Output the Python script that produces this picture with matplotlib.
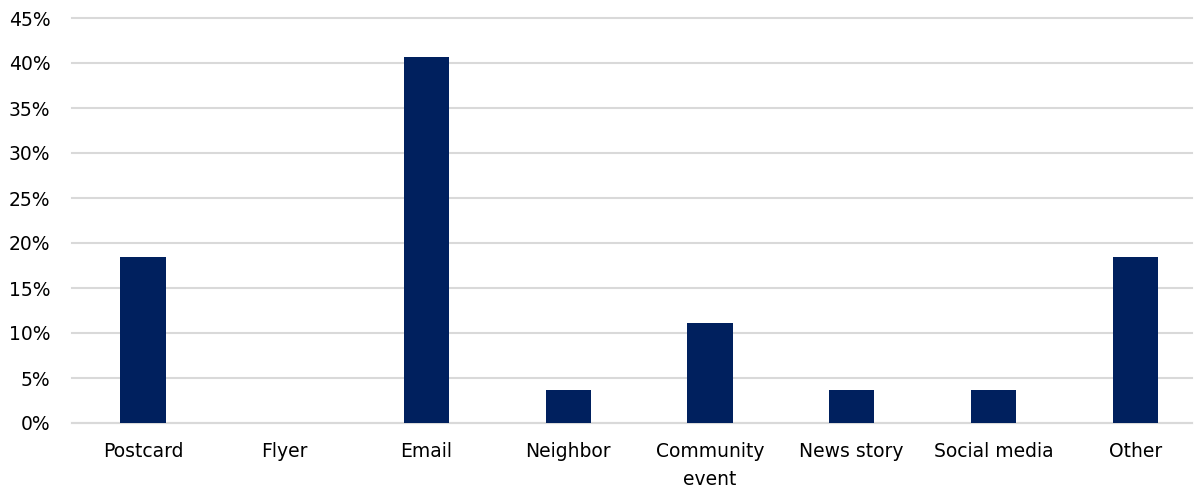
import matplotlib
matplotlib.use('Agg')
import matplotlib.pyplot as plt
from matplotlib.ticker import PercentFormatter

categories = ['Postcard', 'Flyer', 'Email', 'Neighbor', 'Community\nevent',
              'News story', 'Social media', 'Other']
values = [18.5, 0.0, 40.7, 3.7, 11.1, 3.7, 3.7, 18.5]
yticks = [0, 5, 10, 15, 20, 25, 30, 35, 40, 45]

W, H = 1204, 493
fig = plt.figure(figsize=(W / 100, H / 100), dpi=100)
ax = fig.add_axes([72 / W, 1 - 423 / H, (1192 - 72) / W, (423 - 18) / H])

x = range(len(categories))
ax.bar(x, values, width=0.32, color='#00205E', zorder=3)

ax.set_xlim(-0.5, len(categories) - 0.6)
ax.set_ylim(0, 45)
ax.set_yticks(yticks)
ax.yaxis.set_major_formatter(PercentFormatter(decimals=0))
ax.set_xticks(list(x))
ax.set_xticklabels(categories, linespacing=1.6)

ax.grid(axis='y', color='#D9D9D9', linewidth=1.5, zorder=0)
for gl in ax.get_ygridlines():
    gl.set_clip_on(False)
for s in ['top', 'right', 'left']:
    ax.spines[s].set_visible(False)
ax.spines['bottom'].set_color('#D9D9D9')
ax.spines['bottom'].set_linewidth(1.5)
ax.tick_params(axis='both', length=0, labelsize=13.5, labelcolor='#000000')
ax.tick_params(axis='x', pad=14)
ax.tick_params(axis='y', pad=15.5)

fig.savefig('out.png', dpi=100)
